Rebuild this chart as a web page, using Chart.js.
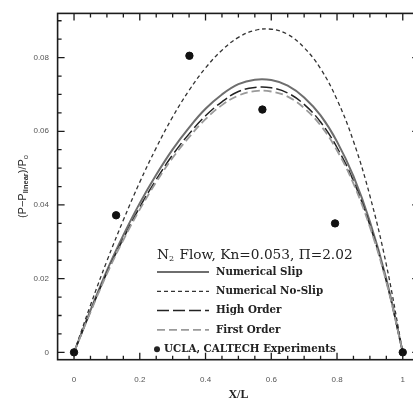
<!DOCTYPE html>
<html>
<head>
<meta charset="utf-8">
<script src="https://cdn.jsdelivr.net/npm/chart.js@4.4.0/dist/chart.umd.min.js"></script>
<style>
  html, body { margin: 0; padding: 0; overflow: hidden; background: #fff; }
  canvas { display: block; }
</style>
</head>
<body>
<canvas id="pressureChart" width="428" height="403"></canvas>
<script>
// Sample positions along the channel (x/L)
const xPositions = [0, 0.05, 0.1, 0.15, 0.2, 0.25, 0.3, 0.35, 0.4, 0.45, 0.5,
                    0.55, 0.6, 0.65, 0.7, 0.75, 0.8, 0.85, 0.9, 0.95, 1];

// Pressure deviation from the linear profile, (P - P_linear)/P_o
const numericalSlip = [0, 0.0114, 0.0222, 0.0318, 0.0405, 0.0482, 0.0551, 0.0610, 0.0661, 0.0700, 0.0728,
                       0.0740, 0.0739, 0.0724, 0.0692, 0.0643, 0.0572, 0.0478, 0.0355, 0.0199, 0];
const numericalNoSlip = [0, 0.0128, 0.0248, 0.0359, 0.0462, 0.0555, 0.0639, 0.0711, 0.0772, 0.0820, 0.0855,
                         0.0874, 0.0877, 0.0863, 0.0827, 0.0770, 0.0686, 0.0573, 0.0425, 0.0238, 0];
const highOrder = [0, 0.0111, 0.0216, 0.0309, 0.0394, 0.0469, 0.0536, 0.0593, 0.0642, 0.0680, 0.0708,
                   0.0719, 0.0718, 0.0704, 0.0673, 0.0625, 0.0556, 0.0465, 0.0345, 0.0193, 0];
const firstOrder = [0, 0.0109, 0.0213, 0.0305, 0.0388, 0.0462, 0.0528, 0.0584, 0.0633, 0.0671, 0.0697,
                    0.0709, 0.0708, 0.0694, 0.0663, 0.0616, 0.0548, 0.0458, 0.0340, 0.0191, 0];

// Measured points
const experimentX = [0, 0.128, 0.351, 0.573, 0.794, 1];
const experimentY = [0, 0.0372, 0.0805, 0.0659, 0.0350, 0];

const seriesNames = ["Numerical Slip", "Numerical No-Slip", "High Order", "First Order",
                     "UCLA, CALTECH Experiments"];

const xTickValues = [0, 0.2, 0.4, 0.6, 0.8, 1];
const xTickLabels = ["0", "0.2", "0.4", "0.6", "0.8", "1"];
const yTickValues = [0, 0.02, 0.04, 0.06, 0.08];
const yTickLabels = ["0", "0.02", "0.04", "0.06", "0.08"];

function toPoints(xs, ys) {
    return xs.map((x, i) => ({ x: x, y: ys[i] }));
}

// Boxed frame with inward major/minor ticks on all four sides
const framePlugin = {
    id: "frame",
    afterDraw(chart) {
        const { ctx, chartArea: a, scales } = chart;
        const xs = scales.x, ys = scales.y;
        ctx.save();
        ctx.strokeStyle = "#1c1c1c";
        ctx.lineWidth = 1.6;
        ctx.strokeRect(a.left, a.top, a.right - a.left, a.bottom - a.top);
        ctx.lineWidth = 1.3;
        ctx.beginPath();
        for (let i = 0; i <= 20; i++) {
            const v = i * 0.05;
            const len = i % 4 === 0 ? 7 : 4;
            const px = xs.getPixelForValue(v);
            ctx.moveTo(px, a.bottom); ctx.lineTo(px, a.bottom - len);
            ctx.moveTo(px, a.top); ctx.lineTo(px, a.top + len);
        }
        for (let i = 0; i <= 18; i++) {
            const v = i * 0.005;
            const len = i % 4 === 0 ? 7 : 4;
            const py = ys.getPixelForValue(v);
            ctx.moveTo(a.left, py); ctx.lineTo(a.left + len, py);
            ctx.moveTo(a.right, py); ctx.lineTo(a.right - len, py);
        }
        ctx.stroke();

        // y axis title with subscripts
        ctx.fillStyle = "#2a2a2a";
        ctx.translate(23, (a.top + a.bottom) / 2);
        ctx.rotate(-Math.PI / 2);
        const parts = [
            { t: "(P\u2212P", f: "11px 'Liberation Sans'", dy: 0 },
            { t: "linear", f: "bold 7.5px 'Liberation Sans'", dy: 3 },
            { t: ")/P", f: "11px 'Liberation Sans'", dy: 0 },
            { t: "o", f: "7.5px 'Liberation Sans'", dy: 3 }
        ];
        let total = 0;
        parts.forEach(p => { ctx.font = p.f; p.w = ctx.measureText(p.t).width; total += p.w; });
        let x = -total / 2;
        ctx.textBaseline = "middle";
        parts.forEach(p => { ctx.font = p.f; ctx.fillText(p.t, x, p.dy); x += p.w; });
        ctx.restore();
    }
};

// Legend box in the lower middle of the plot
const legendPlugin = {
    id: "plotLegend",
    afterDraw(chart) {
        const ctx = chart.ctx;
        const sets = chart.data.datasets;
        const left = 157, sampleEnd = 209, textX = 216;
        ctx.save();
        ctx.fillStyle = "#222";
        ctx.textBaseline = "middle";
        ctx.font = "13.7px 'DejaVu Serif'";
        ctx.fillText("N", left, 255);
        let w = ctx.measureText("N").width;
        ctx.font = "8px 'DejaVu Serif'";
        ctx.fillText("2", left + w, 259);
        w += ctx.measureText("2").width + 1;
        ctx.font = "13.7px 'DejaVu Serif'";
        ctx.fillText(" Flow, Kn=0.053, \u03A0=2.02", left + w, 255);

        ctx.font = "bold 10.3px 'DejaVu Serif'";
        for (let i = 0; i < 4; i++) {
            const ds = sets[i];
            const y = 272 + i * 19.3;
            ctx.beginPath();
            ctx.setLineDash(ds.borderDash || []);
            ctx.strokeStyle = ds.borderColor;
            ctx.lineWidth = ds.borderWidth;
            ctx.moveTo(left, y); ctx.lineTo(sampleEnd, y);
            ctx.stroke();
            ctx.setLineDash([]);
            ctx.fillText(ds.label, textX, y);
        }
        const dotY = 272 + 4 * 19.3;
        ctx.beginPath();
        ctx.arc(left, dotY, 3, 0, Math.PI * 2);
        ctx.fill();
        ctx.fillText(sets[4].label, 164, dotY);
        ctx.restore();
    }
};

const lineBase = { showLine: true, pointRadius: 0, tension: 0.4, fill: false };

new Chart(document.getElementById("pressureChart").getContext("2d"), {
    type: "scatter",
    data: {
        datasets: [
            Object.assign({ label: seriesNames[0], data: toPoints(xPositions, numericalSlip),
                borderColor: "#6e6e6e", borderWidth: 2, order: 4 }, lineBase),
            Object.assign({ label: seriesNames[1], data: toPoints(xPositions, numericalNoSlip),
                borderColor: "#333", borderWidth: 1.3, borderDash: [4, 3], order: 3 }, lineBase),
            Object.assign({ label: seriesNames[2], data: toPoints(xPositions, highOrder),
                borderColor: "#222", borderWidth: 1.5, borderDash: [12, 4], order: 2 }, lineBase),
            Object.assign({ label: seriesNames[3], data: toPoints(xPositions, firstOrder),
                borderColor: "#9a9a9a", borderWidth: 1.8, borderDash: [8, 4], order: 1 }, lineBase),
            { label: seriesNames[4], data: toPoints(experimentX, experimentY), showLine: false,
              pointRadius: 3.7, pointBackgroundColor: "#111", pointBorderColor: "#111", order: 0 }
        ]
    },
    options: {
        responsive: false,
        animation: false,
        devicePixelRatio: 1,
        layout: { padding: { top: 10, right: 8.8, left: 0, bottom: 0 } },
        plugins: { legend: { display: false }, tooltip: { enabled: false } },
        scales: {
            x: {
                type: "linear", min: -0.05, max: 1.05,
                afterFit(s) { s.height = 43.3; },
                afterBuildTicks(s) { s.ticks = xTickValues.map(v => ({ value: v })); },
                ticks: { callback: (v, i) => xTickLabels[i], padding: 15, maxRotation: 0, autoSkip: false,
                         color: "#555", font: { family: "Liberation Sans", size: 8 } },
                grid: { display: false, drawTicks: false },
                border: { display: false },
                title: { display: true, text: "X/L", color: "#222", padding: { top: 0, bottom: 1 },
                         font: { family: "Liberation Serif", weight: "bold", size: 12 } }
            },
            y: {
                type: "linear", min: -0.002, max: 0.092,
                afterFit(s) { s.width = 57.6; },
                afterBuildTicks(s) { s.ticks = yTickValues.map(v => ({ value: v })); },
                ticks: { callback: (v, i) => yTickLabels[i], padding: 8.6, autoSkip: false,
                         color: "#555", font: { family: "Liberation Sans", size: 8 } },
                grid: { display: false, drawTicks: false },
                border: { display: false }
            }
        }
    },
    plugins: [framePlugin, legendPlugin]
});
</script>
</body>
</html>
